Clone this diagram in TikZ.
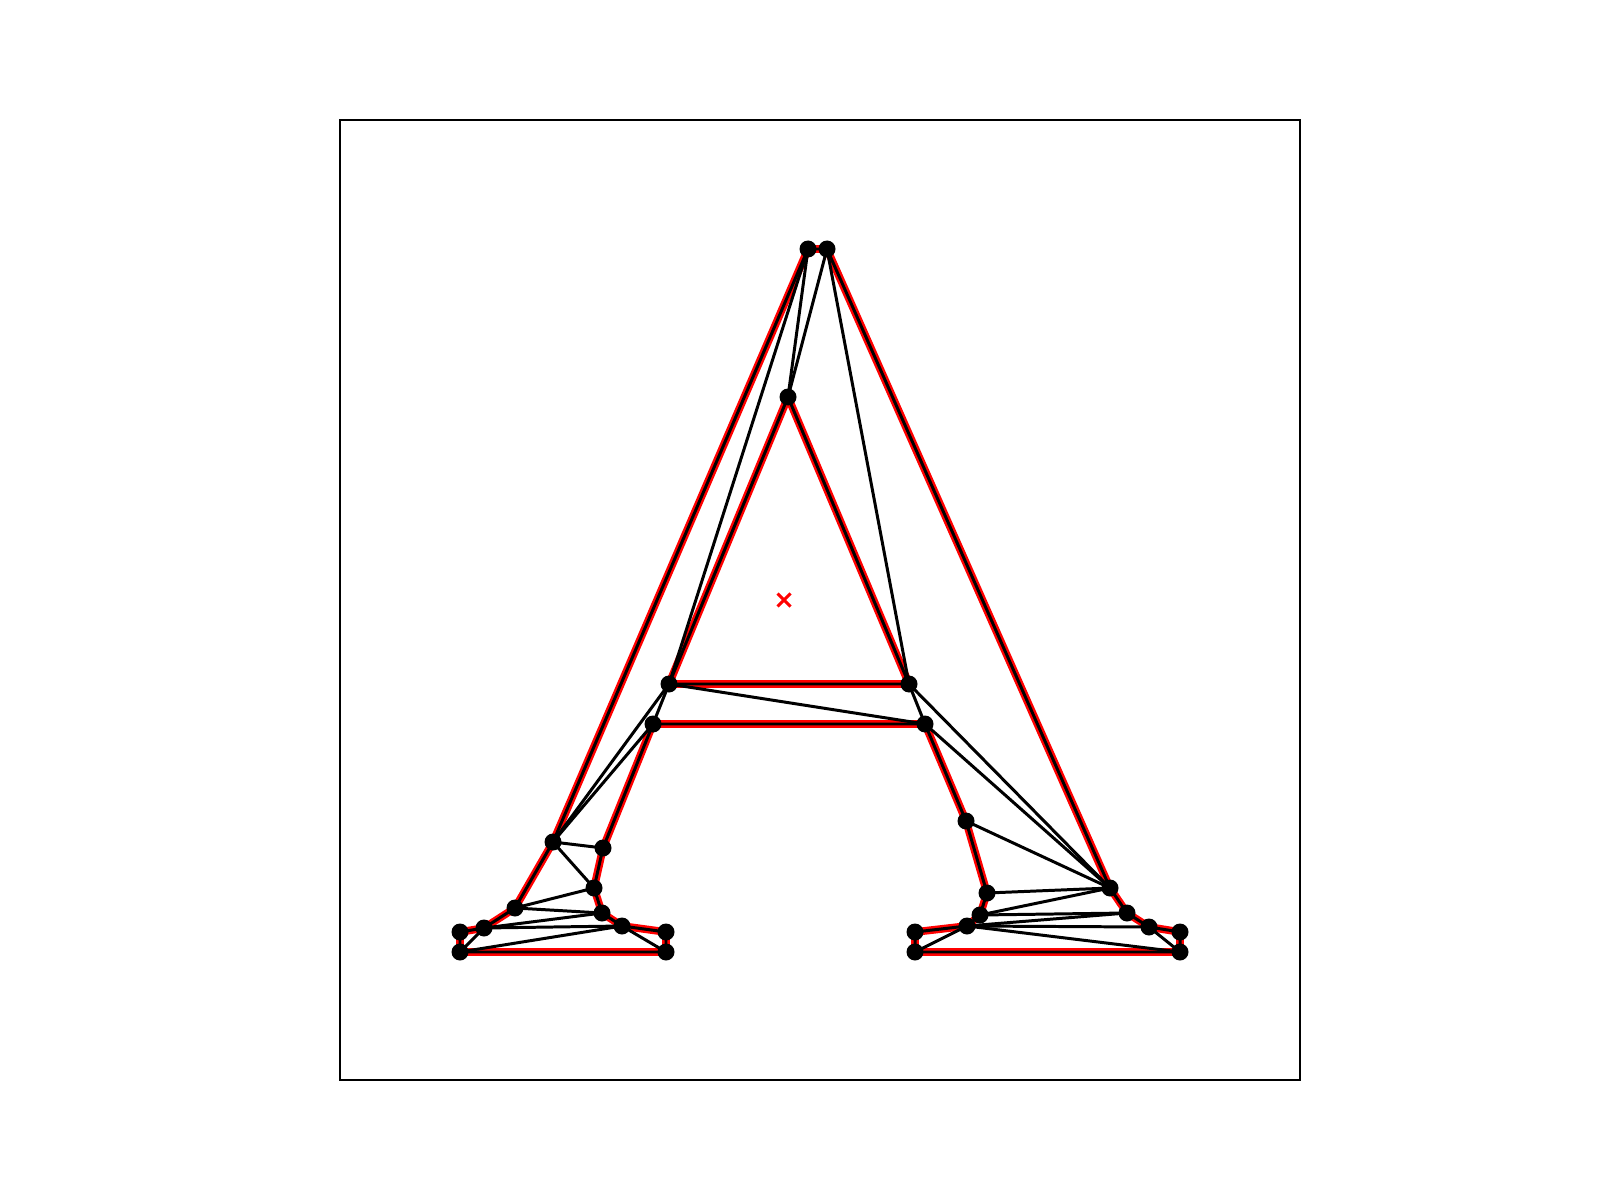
\documentclass[tikz,border=0pt]{standalone}
\usepackage{tikz}
\tikzset{
  outline/.style={red, line width=2.2pt, line join=round},
  edge/.style={black, line width=0.85pt, line join=round},
  vtx/.style={black},
}
\begin{document}
\begin{tikzpicture}[x=0.1mm, y=-0.1mm]
    \useasboundingbox (0,0) rectangle (1600,1200);
    \draw[line width=0.8pt] (340,120) rectangle (1300,1080);
    % vertices of the letter
    \coordinate (t1) at (808,249);
    \coordinate (t2) at (827,249);
    \coordinate (apex) at (788,397);
    \coordinate (c1) at (669,684);
    \coordinate (c2) at (909,684);
    \coordinate (c3) at (653,724);
    \coordinate (c4) at (925,724);
    \coordinate (l1) at (553,842);
    \coordinate (l2) at (603,848);
    \coordinate (l3) at (594,888);
    \coordinate (l4) at (515,908);
    \coordinate (l5) at (602,913);
    \coordinate (l6) at (484,928);
    \coordinate (l7) at (460,932);
    \coordinate (l8) at (622,926);
    \coordinate (l9) at (666,932);
    \coordinate (l10) at (460,952);
    \coordinate (l11) at (666,952);
    \coordinate (r1) at (966,821);
    \coordinate (r2) at (1110,888);
    \coordinate (r3) at (987,893);
    \coordinate (r4) at (980,915);
    \coordinate (r5) at (1127,913);
    \coordinate (r6) at (967,926);
    \coordinate (r7) at (1149,927);
    \coordinate (r8) at (915,932);
    \coordinate (r9) at (1180,932);
    \coordinate (r10) at (915,952);
    \coordinate (r11) at (1180,952);
    % boundary
    \draw[outline] (t1) -- (l1) -- (l4) -- (l6) -- (l7) -- (l10) -- (l11) -- (l9) -- (l8) -- (l5) -- (l3) -- (l2)
        -- (c3) -- (c4) -- (r1) -- (r3) -- (r4) -- (r6) -- (r8) -- (r10) -- (r11) -- (r9) -- (r7) -- (r5) -- (r2) -- (t2) -- cycle;
    \draw[outline] (apex) -- (c1) -- (c2) -- cycle;
    % triangulation
    \draw[edge] (t1) -- (l1) -- (l4) -- (l6) -- (l7) -- (l10) -- (l11) -- (l9) -- (l8) -- (l5) -- (l3) -- (l2)
        -- (c3) -- (c4) -- (r1) -- (r3) -- (r4) -- (r6) -- (r8) -- (r10) -- (r11) -- (r9) -- (r7) -- (r5) -- (r2) -- (t2) -- cycle;
    \draw[edge] (apex) -- (c1) -- (c2) -- cycle;
    \foreach \a/\b in {t1/apex, t2/apex, t1/c1, t2/c2, c1/l1, c3/l1, c1/c3, l1/l2, c1/c4, c2/c4, c2/r2, c4/r2, r1/r2,
        l1/l3, l3/l4, l4/l5, l5/l6, l6/l8, l8/l10, l10/l6, l8/l11,
        r2/r3, r2/r4, r4/r5, r5/r6, r6/r7, r6/r10, r6/r11, r7/r11}
        \draw[edge] (\a) -- (\b);
    \foreach \v in {t1, t2, apex, c1, c2, c3, c4, l1, l2, l3, l4, l5, l6, l7, l8, l9, l10, l11,
        r1, r2, r3, r4, r5, r6, r7, r8, r9, r10, r11}
        \fill[vtx] (\v) circle (8.5);
    % centre mark
    \coordinate (mid) at (784,600);
    \draw[red, line width=0.85pt] ([shift={(-6.5,-6.5)}]mid) -- ([shift={(6.5,6.5)}]mid)
        ([shift={(-6.5,6.5)}]mid) -- ([shift={(6.5,-6.5)}]mid);
\end{tikzpicture}
\end{document}
